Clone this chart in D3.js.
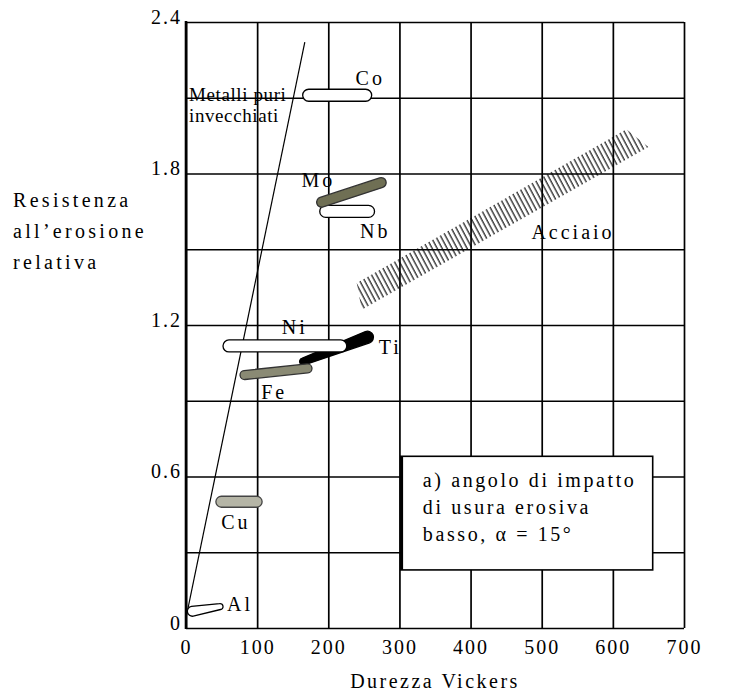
<!DOCTYPE html>
<html lang="it">
<head>
<meta charset="UTF-8">
<title>Resistenza all'erosione relativa - Durezza Vickers</title>
<script src="https://d3js.org/d3.v7.min.js"></script>
<style>
  body { margin: 0; background: #fff; }
  svg { display: block; }
  text { font-family: "Liberation Serif", "Times New Roman", serif; fill: #000; }
  .tick text { font-size: 20px; letter-spacing: 2px; }
  .etichetta { font-size: 20px; letter-spacing: 3px; }
</style>
</head>
<body>
<svg width="736" height="697"></svg>
<script>
// --- dati ---
const xTicks = [0, 100, 200, 300, 400, 500, 600, 700];
const yGrid = [0, 0.3, 0.6, 0.9, 1.2, 1.5, 1.8, 2.1, 2.4];
const yLabels = [0, 0.6, 1.2, 1.8, 2.4];

// metalli: durezza (inizio/fine) e resistenza (inizio/fine)
const metalli = ["Al", "Cu", "Ti", "Fe", "Ni", "Nb", "Mo", "Co"];
const hvDa    = [2,   42,  160, 76,   52,    188,  184,  164];
const hvA     = [52,  107, 263, 177,  226,   265,  281,  261];
const resDa   = [0.063, 0.50, 1.05, 1.0,  1.117, 1.65, 1.68, 2.11];
const resA    = [0.087, 0.50, 1.16, 1.03, 1.117, 1.65, 1.77, 2.11];
// posizione delle etichette (unita' dei dati)
const labHv  = [76,  70,   287,  124,  153,  266,  186,  259];
const labRes = [0.095, 0.42, 1.113, 0.935, 1.192, 1.572, 1.774, 2.18];

// banda acciaio
const acciaioHv  = [240, 619, 650, 247];
const acciaioRes = [1.366, 1.975, 1.905, 1.26];
const acciaioLab = [544, 1.568];

// retta metalli puri invecchiati
const rettaHv  = [0, 167];
const rettaRes = [0.04, 2.32];

// riquadro
const boxHv = [302, 656];
const boxRes = [0.23, 0.68];
const boxTesto = ["a) angolo di impatto", "di usura erosiva", "basso, \u03b1 = 15\u00b0"];

// --- stili ---
const stile = {
  Al: { fill: "#fff", stroke: "#000", h1: 5, h2: 3 },
  Cu: { fill: "#b5b5a6", stroke: "#444", h1: 5.5, h2: 5.5 },
  Ti: { fill: "#000", stroke: "#000", h1: 3.5, h2: 6 },
  Fe: { fill: "#8a8a74", stroke: "#333", h1: 4.5, h2: 4.5 },
  Ni: { fill: "#fff", stroke: "#000", h1: 6, h2: 6 },
  Nb: { fill: "#fff", stroke: "#000", h1: 6, h2: 6 },
  Mo: { fill: "#6f6f54", stroke: "#333", h1: 5, h2: 5 },
  Co: { fill: "#fff", stroke: "#000", h1: 6, h2: 6 }
};

const svg = d3.select("svg");
const x = d3.scaleLinear().domain([0, 700]).range([186, 684]);
const y = d3.scaleLinear().domain([0, 2.4]).range([628, 22]);

// griglia verticale + etichette asse x
const gx = svg.append("g")
  .attr("transform", `translate(0,${y(0)})`)
  .call(d3.axisBottom(x).tickValues(xTicks).tickSize(-(y(0) - y(2.4))).tickPadding(8).tickFormat(d3.format("d")));
gx.select(".domain").remove();
gx.selectAll(".tick line").attr("stroke", "#000").attr("stroke-width", 1.7);
gx.selectAll(".tick text").attr("dy", "0.9em");

// griglia orizzontale + etichette asse y
const gy = svg.append("g")
  .attr("transform", `translate(${x(0)},0)`)
  .call(d3.axisLeft(y).tickValues(yGrid).tickSize(-(x(700) - x(0))).tickPadding(4)
    .tickFormat(d => yLabels.includes(d) ? (d === 0 ? "0" : d.toFixed(1)) : ""));
gy.select(".domain").remove();
gy.selectAll(".tick line").attr("stroke", "#000").attr("stroke-width", 1.7);
gy.selectAll(".tick text").attr("dy", "0.05em");

// asse sinistro piu' spesso
svg.append("line")
  .attr("x1", x(0)).attr("x2", x(0)).attr("y1", y(2.4) - 1).attr("y2", y(0) + 1)
  .attr("stroke", "#000").attr("stroke-width", 2.6);

// tratteggio acciaio
svg.append("defs").append("pattern")
  .attr("id", "tratteggio")
  .attr("patternUnits", "userSpaceOnUse")
  .attr("width", 4.4).attr("height", 10)
  .attr("patternTransform", "rotate(-28)")
  .append("line")
  .attr("x1", 1).attr("x2", 1).attr("y1", 0).attr("y2", 10)
  .attr("stroke", "#000").attr("stroke-width", 1.1);

svg.append("path")
  .attr("d", d3.line()(acciaioHv.map((h, i) => [x(h), y(acciaioRes[i])])) + "Z")
  .attr("fill", "url(#tratteggio)");

svg.append("text")
  .attr("class", "etichetta")
  .attr("x", x(acciaioLab[0])).attr("y", y(acciaioLab[1]))
  .attr("text-anchor", "middle").attr("dominant-baseline", "central")
  .text("Acciaio");

// retta metalli puri invecchiati
svg.append("line")
  .attr("x1", x(rettaHv[0])).attr("y1", y(rettaRes[0]))
  .attr("x2", x(rettaHv[1])).attr("y2", y(rettaRes[1]))
  .attr("stroke", "#000").attr("stroke-width", 1.2);

const tMetalli = svg.append("text")
  .attr("x", x(0) + 3).attr("y", y(2.1) + 3)
  .style("font-size", "19px").style("letter-spacing", "0.6px");
tMetalli.append("tspan").text("Metalli puri");
tMetalli.append("tspan").attr("x", x(0) + 3).attr("dy", 21).text("invecchiati");

// forma allungata (capsula) tra due punti
function capsula(x1, y1, x2, y2, h1, h2) {
  const len = Math.hypot(x2 - x1, y2 - y1);
  const ux = (x2 - x1) / len, uy = (y2 - y1) / len;
  // accorcia per le estremita' arrotondate
  const ax = x1 + ux * h1, ay = y1 + uy * h1;
  const bx = x2 - ux * h2, by = y2 - uy * h2;
  const nx = -uy, ny = ux;
  return `M${ax + nx * h1},${ay + ny * h1}` +
    `L${bx + nx * h2},${by + ny * h2}` +
    `A${h2},${h2} 0 0 0 ${bx - nx * h2},${by - ny * h2}` +
    `L${ax - nx * h1},${ay - ny * h1}` +
    `A${h1},${h1} 0 0 0 ${ax + nx * h1},${ay + ny * h1}Z`;
}

metalli.forEach((m, i) => {
  const s = stile[m];
  svg.append("path")
    .attr("d", capsula(x(hvDa[i]), y(resDa[i]), x(hvA[i]), y(resA[i]), s.h1, s.h2))
    .attr("fill", s.fill).attr("stroke", s.stroke).attr("stroke-width", 1.3);
});

svg.selectAll(".lab-metallo")
  .data(metalli)
  .join("text")
  .attr("class", "etichetta lab-metallo")
  .attr("x", (d, i) => x(labHv[i])).attr("y", (d, i) => y(labRes[i]))
  .attr("text-anchor", "middle").attr("dominant-baseline", "central")
  .text(d => d);

// riquadro con annotazione
svg.append("rect")
  .attr("x", x(boxHv[0])).attr("y", y(boxRes[1]))
  .attr("width", x(boxHv[1]) - x(boxHv[0])).attr("height", y(boxRes[0]) - y(boxRes[1]))
  .attr("fill", "#fff").attr("stroke", "#000").attr("stroke-width", 1.6);
svg.append("line")
  .attr("x1", x(boxHv[0]) + 1).attr("x2", x(boxHv[0]) + 1)
  .attr("y1", y(boxRes[1])).attr("y2", y(boxRes[0]))
  .attr("stroke", "#000").attr("stroke-width", 2.5);

svg.append("g").selectAll("text")
  .data(boxTesto)
  .join("text")
  .attr("x", x(boxHv[0]) + 22)
  .attr("y", (d, i) => y(boxRes[1]) + 31 + i * 27)
  .style("font-size", "20px").style("letter-spacing", "2.6px")
  .text(d => d);

// titoli assi
svg.append("text")
  .attr("class", "etichetta")
  .attr("x", (x(0) + x(700)) / 2).attr("y", 688)
  .attr("text-anchor", "middle")
  .style("letter-spacing", "2.5px")
  .text("Durezza Vickers");

svg.append("g").selectAll("text")
  .data(["Resistenza", "all\u2019erosione", "relativa"])
  .join("text")
  .attr("class", "etichetta")
  .attr("x", 13)
  .attr("y", (d, i) => 207 + i * 31)
  .style("letter-spacing", "3.3px")
  .text(d => d);
</script>
</body>
</html>
